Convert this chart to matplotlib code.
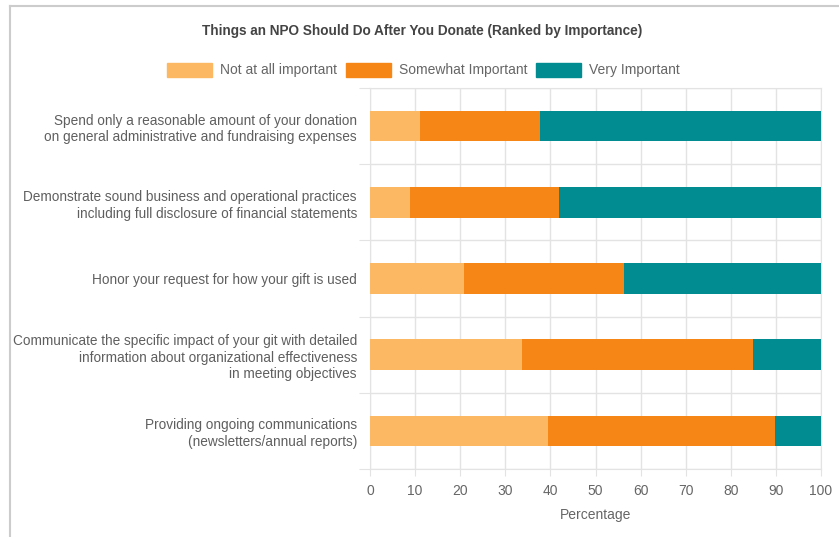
import numpy as np
import matplotlib.pyplot as plt
from matplotlib.patches import Rectangle
from matplotlib.lines import Line2D

plt.rcParams['font.family'] = ['Liberation Sans', 'DejaVu Sans']

categories = [
    'Spend only a reasonable amount of your donation\non general administrative and fundraising expenses',
    'Demonstrate sound business and operational practices\nincluding full disclosure of financial statements',
    'Honor your request for how your gift is used',
    'Communicate the specific impact of your git with detailed\ninformation about organizational effectiveness\nin meeting objectives',
    'Providing ongoing communications\n(newsletters/annual reports)',
]
not_important = [11.1, 8.9, 20.9, 33.7, 39.4]
somewhat = [26.5, 33.1, 35.4, 51.3, 50.5]
very = [62.4, 58.0, 43.7, 15.0, 10.1]

series = ['Not at all important', 'Somewhat Important', 'Very Important']
colors = ['#FDB863', '#F68716', '#008C91']

grid_c = '#e3e3e3'
text_c = '#666666'

fig = plt.figure(figsize=(8.39, 5.37), dpi=100)
ax = fig.add_axes([370 / 839, 1 - 469 / 537, 451 / 839, 381 / 537])

y = np.arange(len(categories))
left = np.zeros(len(categories))
for vals, col in zip([not_important, somewhat, very], colors):
    ax.barh(y, vals, left=left, height=0.4, color=col, edgecolor='none', zorder=3)
    left += np.array(vals)

ax.set_xlim(0, 100)
ax.set_ylim(len(categories) - 0.5, -0.5)
ax.set_xticks(np.arange(0, 101, 10))
ax.set_yticks(np.arange(-0.5, len(categories)))
ax.set_yticklabels([])
ax.set_yticks(y, minor=True)
ax.set_yticklabels(categories, minor=True, linespacing=1.25)
ax.tick_params(axis='y', which='minor', length=0, pad=9.4, labelsize=9.8, labelcolor='#5f5f5f')
ax.tick_params(axis='y', which='major', length=8, color=grid_c)
ax.tick_params(axis='x', length=5, color=grid_c, labelsize=10, labelcolor=text_c, pad=6)
ax.grid(True, color=grid_c, linewidth=1, zorder=0)
for s in ax.spines.values():
    s.set_color(grid_c)
ax.set_xlabel('Percentage', fontsize=10, color=text_c, labelpad=7)

fig.text(0.503, 1 - 31 / 537, 'Things an NPO Should Do After You Donate (Ranked by Importance)',
         ha='center', va='center', fontsize=9.8, fontweight='bold', color='#444444')

# legend row
leg_x = [167, 346, 536]
for x0, name, col in zip(leg_x, series, colors):
    fig.patches.append(Rectangle((x0 / 839, 1 - 77 / 537), 45 / 839, 14 / 537,
                                 transform=fig.transFigure, color=col))
    fig.text((x0 + 53) / 839, 1 - 70 / 537, name, ha='left', va='center',
             fontsize=10, color=text_c)

# outer frame
fig.lines.append(Line2D([10 / 839, 1], [1 - 6 / 537, 1 - 6 / 537], transform=fig.transFigure,
                        color='#cccccc', linewidth=1.5))
fig.lines.append(Line2D([10 / 839, 10 / 839], [0, 1 - 6 / 537], transform=fig.transFigure,
                        color='#cccccc', linewidth=1.5))

fig.savefig('out.png', dpi=100)
